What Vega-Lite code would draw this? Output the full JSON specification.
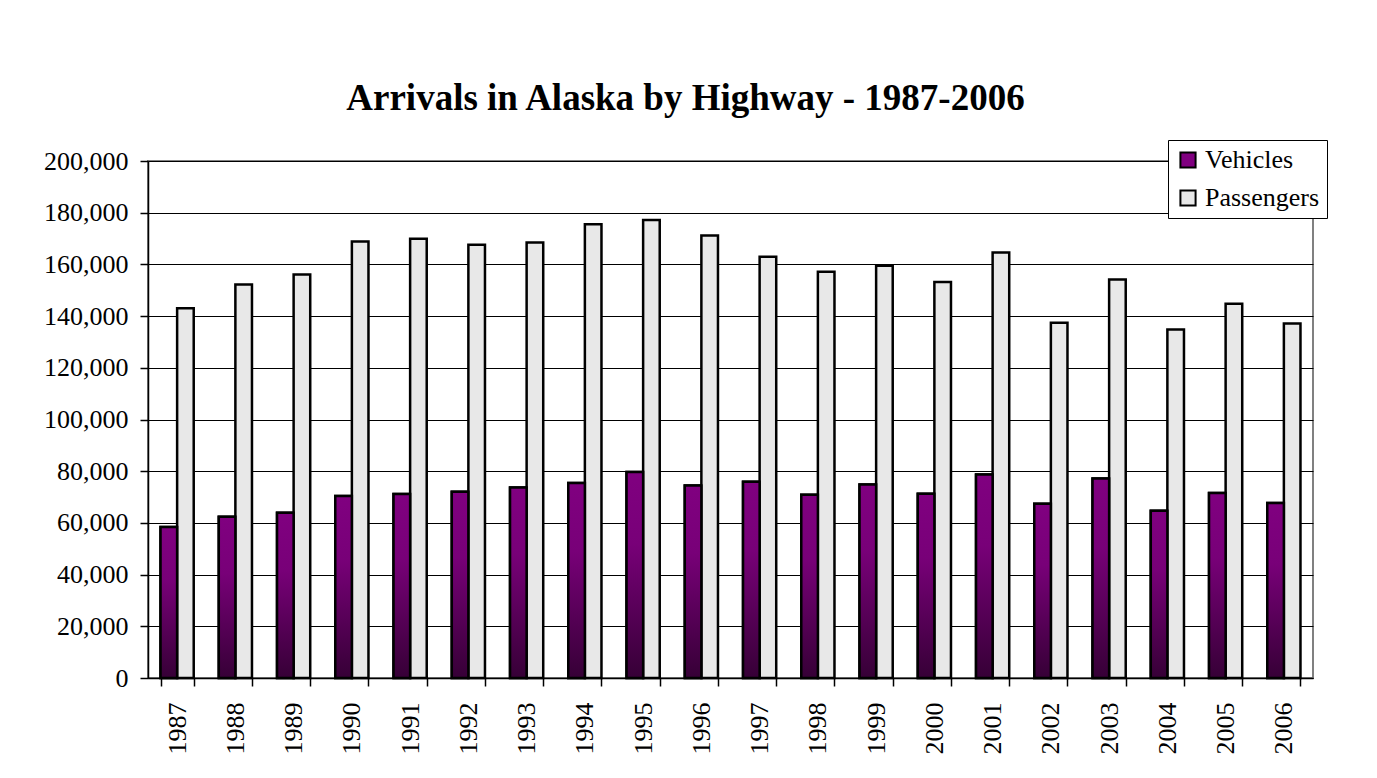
{
  "$schema": "https://vega.github.io/schema/vega-lite/v6.json",
  "autosize": "none",
  "width": 1165,
  "height": 517,
  "padding": {"left": 148, "top": 161, "right": 64, "bottom": 100},
  "background": "white",
  "title": {
    "text": "Arrivals in Alaska by Highway - 1987-2006",
    "font": "Liberation Serif",
    "fontSize": 37,
    "fontWeight": "bold",
    "color": "black",
    "anchor": "middle",
    "frame": "bounds",
    "baseline": "alphabetic",
    "offset": -7
  },
  "data": {
    "values": [
      {"year": "1987", "series": "Vehicles", "value": 58400},
      {"year": "1988", "series": "Vehicles", "value": 62400},
      {"year": "1989", "series": "Vehicles", "value": 63900},
      {"year": "1990", "series": "Vehicles", "value": 70400},
      {"year": "1991", "series": "Vehicles", "value": 71150},
      {"year": "1992", "series": "Vehicles", "value": 72050},
      {"year": "1993", "series": "Vehicles", "value": 73700},
      {"year": "1994", "series": "Vehicles", "value": 75400},
      {"year": "1995", "series": "Vehicles", "value": 79700},
      {"year": "1996", "series": "Vehicles", "value": 74500},
      {"year": "1997", "series": "Vehicles", "value": 75900},
      {"year": "1998", "series": "Vehicles", "value": 70900},
      {"year": "1999", "series": "Vehicles", "value": 74900},
      {"year": "2000", "series": "Vehicles", "value": 71300},
      {"year": "2001", "series": "Vehicles", "value": 78750},
      {"year": "2002", "series": "Vehicles", "value": 67400},
      {"year": "2003", "series": "Vehicles", "value": 77200},
      {"year": "2004", "series": "Vehicles", "value": 64700},
      {"year": "2005", "series": "Vehicles", "value": 71550},
      {"year": "2006", "series": "Vehicles", "value": 67700},
      {"year": "1987", "series": "Passengers", "value": 143000},
      {"year": "1988", "series": "Passengers", "value": 152200},
      {"year": "1989", "series": "Passengers", "value": 156100},
      {"year": "1990", "series": "Passengers", "value": 168900},
      {"year": "1991", "series": "Passengers", "value": 169950},
      {"year": "1992", "series": "Passengers", "value": 167600},
      {"year": "1993", "series": "Passengers", "value": 168500},
      {"year": "1994", "series": "Passengers", "value": 175500},
      {"year": "1995", "series": "Passengers", "value": 177150},
      {"year": "1996", "series": "Passengers", "value": 171200},
      {"year": "1997", "series": "Passengers", "value": 163000},
      {"year": "1998", "series": "Passengers", "value": 157150},
      {"year": "1999", "series": "Passengers", "value": 159500},
      {"year": "2000", "series": "Passengers", "value": 153150},
      {"year": "2001", "series": "Passengers", "value": 164650},
      {"year": "2002", "series": "Passengers", "value": 137400},
      {"year": "2003", "series": "Passengers", "value": 154200},
      {"year": "2004", "series": "Passengers", "value": 134800},
      {"year": "2005", "series": "Passengers", "value": 144800},
      {"year": "2006", "series": "Passengers", "value": 137100}
    ]
  },
  "encoding": {
    "x": {
      "field": "year",
      "type": "nominal",
      "scale": {"paddingInner": 0.43, "paddingOuter": 0.215},
      "axis": {
        "title": null,
        "labelAngle": -90,
        "labelFontSize": 26,
        "tickBand": "extent",
        "tickSize": 8,
        "labelPadding": 16,
        "grid": false
      }
    },
    "xOffset": {
      "field": "series",
      "type": "nominal",
      "sort": ["Vehicles", "Passengers"],
      "scale": {"domain": ["Vehicles", "Passengers"], "paddingInner": 0, "paddingOuter": 0}
    },
    "y": {
      "field": "value",
      "type": "quantitative",
      "scale": {"domain": [0, 200000], "nice": false},
      "axis": {
        "title": null,
        "values": [0, 20000, 40000, 60000, 80000, 100000, 120000, 140000, 160000, 180000, 200000],
        "format": ",.0f",
        "labelFontSize": 26,
        "tickSize": 8,
        "labelPadding": 12,
        "grid": true
      }
    }
  },
  "layer": [
    {
      "mark": {"type": "bar", "stroke": "black", "strokeWidth": 2.5},
      "encoding": {
        "fill": {
          "field": "series",
          "type": "nominal",
          "scale": {"domain": ["Vehicles", "Passengers"], "range": ["#800080", "#e8e8e8"]},
          "legend": {
            "title": null,
            "orient": "none",
            "legendX": 1020,
            "legendY": -21,
            "strokeColor": "black",
            "fillColor": "white",
            "padding": 7,
            "labelFont": "Liberation Serif",
            "labelFontSize": 26,
            "labelColor": "black",
            "symbolType": "square",
            "symbolSize": 230,
            "symbolStrokeColor": "black",
            "symbolStrokeWidth": 2,
            "symbolOpacity": 1,
            "rowPadding": 12,
            "labelOffset": 4
          }
        }
      }
    },
    {
      "transform": [{"filter": "datum.series === 'Vehicles'"}],
      "mark": {
        "type": "bar",
        "stroke": "black",
        "strokeWidth": 2.5,
        "fill": {
          "gradient": "linear",
          "x1": 0, "y1": 0, "x2": 0, "y2": 1,
          "stops": [
            {"offset": 0, "color": "#800080"},
            {"offset": 0.35, "color": "#780078"},
            {"offset": 1, "color": "#360036"}
          ]
        }
      },
      "encoding": {}
    }
  ],
  "config": {
    "view": {"stroke": "#808080", "strokeWidth": 2},
    "axis": {
      "labelFont": "Liberation Serif",
      "labelColor": "black",
      "domainColor": "black",
      "domainWidth": 1.5,
      "tickColor": "black",
      "tickWidth": 1.5,
      "gridColor": "black",
      "gridWidth": 1
    }
  }
}
